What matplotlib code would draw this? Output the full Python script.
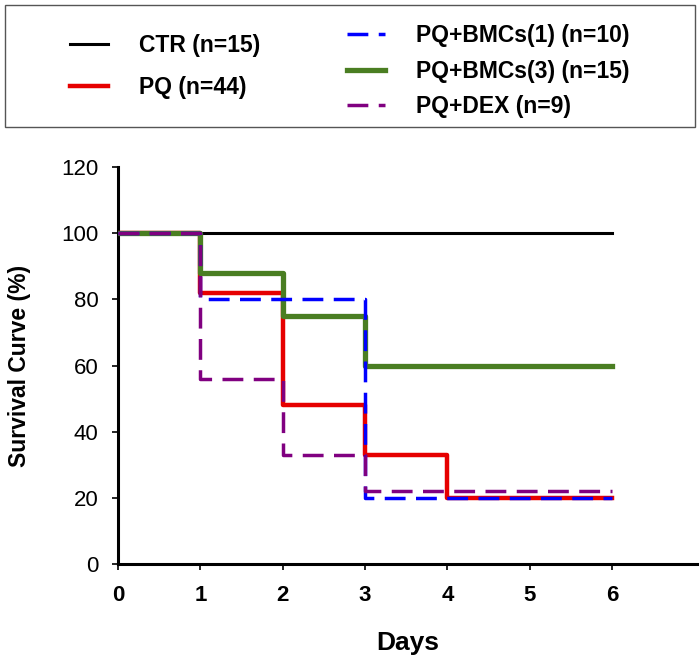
import matplotlib.pyplot as plt
from matplotlib.patches import Rectangle
from matplotlib.lines import Line2D

# datos de supervivencia (%) por día
days = [0, 1, 2, 3, 4, 5, 6]
ctr = [100, 100, 100, 100, 100, 100, 100]
pq = [100, 82, 48, 33, 20, 20, 20]
bmc1 = [100, 80, 80, 20, 20, 20, 20]
bmc3 = [100, 88, 75, 60, 60, 60, 60]
dex = [100, 56, 33, 22, 22, 22, 22]

labels = ["CTR (n=15)", "PQ (n=44)", "PQ+BMCs(1) (n=10)", "PQ+BMCs(3) (n=15)", "PQ+DEX (n=9)"]
x_ticks = [0, 1, 2, 3, 4, 5, 6]
y_ticks = [0, 20, 40, 60, 80, 100, 120]

plt.rcParams["font.family"] = ["Liberation Sans", "DejaVu Sans"]

fig = plt.figure(figsize=(7, 6.67), dpi=100)
ax = fig.add_axes([0.1686, 0.1544, 0.8271, 0.5952])

dash = (0, (6, 3))
ax.plot(days, ctr, drawstyle="steps-post", color="black", lw=2.2, zorder=2)
ax.plot(days, pq, drawstyle="steps-post", color="#e60000", lw=3.2, zorder=3)
ax.plot(days, bmc3, drawstyle="steps-post", color="#4a7e22", lw=3.8, zorder=4)
ax.plot(days, bmc1, drawstyle="steps-post", color="#0000ff", lw=2.5, ls=dash, zorder=5)
ax.plot(days, dex, drawstyle="steps-post", color="#800080", lw=2.5, ls=dash, zorder=6)

ax.set_xlim(0, 7.03)
ax.set_ylim(0, 120)
ax.set_xticks(x_ticks)
ax.set_yticks(y_ticks)
ax.spines["top"].set_visible(False)
ax.spines["right"].set_visible(False)
ax.spines["left"].set_linewidth(2.2)
ax.spines["bottom"].set_linewidth(2.2)
ax.tick_params(axis="both", direction="out", length=4, width=1.2, labelsize=16)
ax.tick_params(axis="x", pad=11)
ax.tick_params(axis="y", pad=10)
for t in ax.get_xticklabels():
    t.set_fontweight("bold")

ax.set_ylabel("Survival Curve (%)", fontsize=16.5, fontweight="bold", labelpad=22)
ax.set_xlabel("Days", fontsize=19, fontweight="bold", labelpad=18)

# leyenda en dos bloques dentro de un recuadro
h1 = [Line2D([], [], color="black", lw=2.2), Line2D([], [], color="#e60000", lw=3.2)]
h2 = [Line2D([], [], color="#0000ff", lw=2.5, ls=dash),
      Line2D([], [], color="#4a7e22", lw=3.8),
      Line2D([], [], color="#800080", lw=2.5, ls=dash)]
leg_kw = dict(frameon=False, handlelength=1.65, handletextpad=1.35, borderpad=0,
              borderaxespad=0, prop={"size": 16.5, "weight": "bold"})
fig.legend(h1, labels[:2], loc="center left", bbox_to_anchor=(0.1, 0.9),
           labelspacing=0.82, **leg_kw)
fig.legend(h2, labels[2:], loc="center left", bbox_to_anchor=(0.496, 0.893),
           labelspacing=0.55, **leg_kw)
fig.patches.append(Rectangle((0.007, 0.81), 0.986, 0.183, transform=fig.transFigure,
                             fill=False, edgecolor="#555555", lw=1.0))

fig.savefig("out.png", dpi=100)
